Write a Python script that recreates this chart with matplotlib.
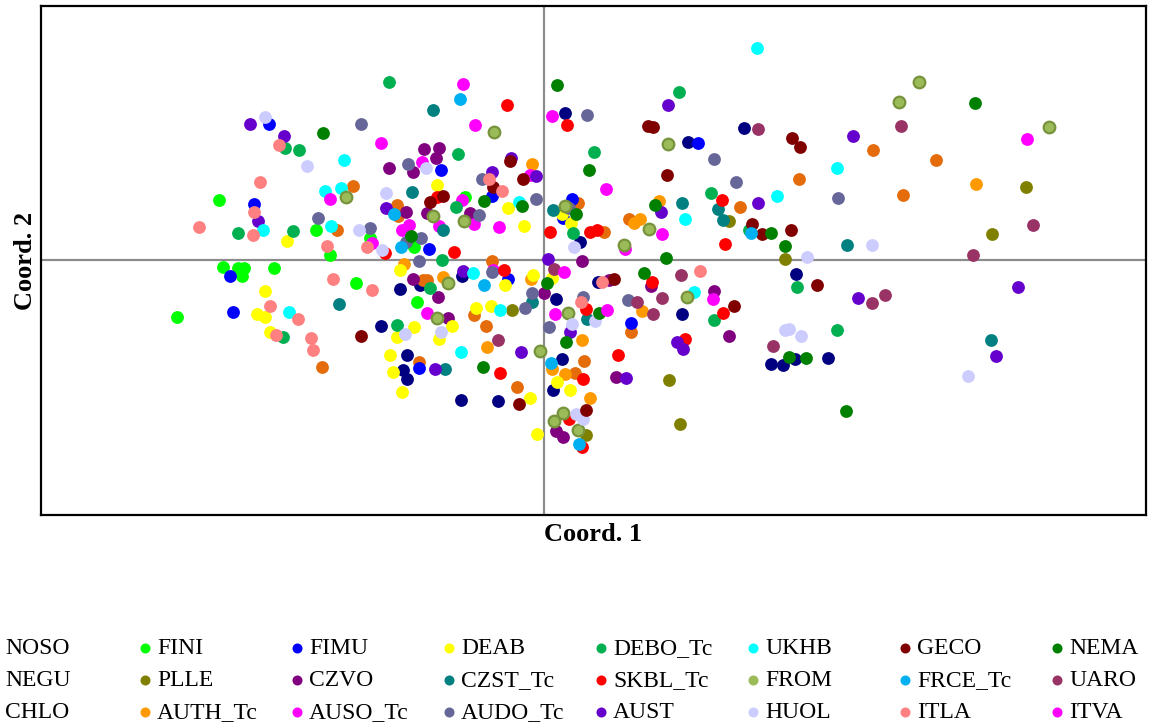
import numpy as np
import matplotlib
matplotlib.use("Agg")
import matplotlib.pyplot as plt

# PCoA scores (Coord. 1, Coord. 2) per population
NOSO = [(0.21, 1.47), (1.44, 1.18), (2.00, 1.32), (0.36, 0.18), (-1.44, -0.29), (-1.24, -0.25),
        (-0.82, -0.16), (-1.63, -0.66), (-1.37, -0.95), (-1.41, -1.10), (-1.37, -1.19), (-0.83, -1.40),
        (-0.46, -1.41), (0.12, -0.39), (0.18, -0.99), (0.09, -1.30), (0.54, -0.22), (1.38, -0.54),
        (2.52, -0.14), (2.27, -1.04), (2.39, -1.05), (2.51, -0.99), (2.84, -0.98)]
NEGU = [(-1.91, 0.74), (-2.07, 0.30), (-1.47, 0.55), (-1.46, 0.44), (-2.22, -1.07), (-1.21, -0.20),
        (-1.17, -0.20), (-1.25, -1.02), (-0.70, -0.55), (-0.58, -0.66), (-0.27, -1.27), (-0.52, -0.01),
        (0.34, 0.57), (0.60, 0.28), (0.85, 0.41), (1.96, 0.53), (2.55, 0.81), (3.29, 1.10),
        (3.92, 1.00), (3.59, 0.65), (0.40, -1.01), (0.31, -1.13), (0.87, -0.72)]
CHLO = []
FINI = [(-3.25, 0.60), (-3.21, -0.07), (-3.06, -0.08), (-3.00, -0.08), (-3.02, -0.16), (-2.70, -0.08),
        (-3.67, -0.57), (-2.28, 0.30), (-2.14, 0.05), (-1.88, -0.23), (-1.74, 0.22), (-1.30, 0.13),
        (-1.27, -0.42), (-0.79, 0.63)]
PLLE = [(-0.32, -0.50), (1.85, 0.39), (2.41, 0.01), (4.48, 0.26), (4.82, 0.73), (1.25, -1.20),
        (1.36, -1.64), (0.42, -1.75)]
AUTH_Tc = [(-0.12, 0.96), (-1.40, -0.04), (-1.01, -0.17), (-0.13, -0.19), (-0.57, -0.87), (1.15, 0.59),
           (0.90, 0.37), (0.96, 0.41), (4.32, 0.76), (0.98, -0.51), (0.38, -0.80), (0.08, -1.09),
           (0.21, -1.14), (0.46, -1.38)]
FIMU = [(-2.75, 1.36), (-2.90, 0.56), (-3.14, -0.16), (-3.11, -0.52), (-1.03, 0.90), (-0.52, 0.64),
        (-1.15, 0.11), (-1.25, -1.08), (-0.36, -0.19), (0.28, 0.61), (0.19, 0.42), (1.54, 1.17),
        (0.87, -0.63)]
CZVO = [(-1.20, 1.11), (-1.05, 1.12), (-1.08, 1.02), (-1.55, 0.92), (-1.31, 0.88), (-1.38, 0.48),
        (-1.17, 0.47), (-0.74, 0.47), (-1.31, -0.19), (-1.06, -0.37), (-0.96, -0.58), (0.00, -0.33),
        (0.38, -0.01), (0.65, -0.20), (1.07, -0.26), (1.70, -0.31), (1.85, -0.76), (0.72, -1.17),
        (0.12, -1.71), (0.19, -1.77)]
AUSO_Tc = [(-0.81, 1.76), (0.08, 1.44), (-1.22, 0.98), (-0.14, 0.85), (-1.42, 0.30), (-1.35, 0.35),
           (-1.05, 0.34), (-0.82, 0.60), (-0.70, 0.36), (-1.72, 0.17), (0.62, 0.71), (0.81, 0.11),
           (-1.17, -0.53), (0.11, -0.54), (-0.51, -0.10)]
DEAB = [(-2.57, 0.19), (-2.79, -0.31), (-2.87, -0.54), (-2.79, -0.57), (-2.74, -0.72), (-1.07, 0.75),
        (-0.36, 0.52), (-0.20, 0.34), (-1.44, -0.10), (-1.30, -0.67), (-1.47, -0.77), (-0.92, -0.66),
        (-1.05, -0.79), (-1.54, -0.95), (-1.51, -1.12), (-1.42, -1.32), (-0.68, -0.48), (-0.53, -0.46),
        (-0.39, -0.25), (-0.11, -0.15), (-0.14, -1.38), (-0.07, -1.74), (0.18, 0.46), (0.27, 0.37),
        (0.08, -0.18), (0.13, -1.22), (0.26, -1.30)]
CZST_Tc = [(-1.11, 1.50), (-1.32, 0.68), (0.09, 0.50), (-1.01, 0.30), (-2.05, -0.44), (-0.99, -1.09),
           (-0.12, -0.42), (0.43, -0.59), (1.38, 0.57), (1.74, 0.51), (1.79, 0.40), (3.03, 0.15),
           (4.47, -0.80)]
AUDO_Tc = [(-1.83, 1.36), (-1.36, 0.96), (-0.62, 0.81), (-0.08, 0.61), (0.43, 1.45), (1.70, 1.01),
           (1.92, 0.78), (2.94, 0.62), (-2.26, 0.42), (-1.74, 0.32), (-0.65, 0.45), (-1.23, 0.22),
           (-1.38, 0.18), (-1.25, -0.01), (-0.52, -0.12), (-0.19, -0.48), (-0.12, -0.33), (0.25, 0.52),
           (0.05, -0.67), (0.39, -0.37), (0.84, -0.40)]
DEBO_Tc = [(-1.55, 1.78), (-2.59, 1.12), (-2.45, 1.10), (-3.06, 0.27), (-2.51, 0.29), (-2.61, -0.77),
           (-0.86, 1.06), (-0.88, 0.53), (-1.02, 0.00), (-1.47, -0.65), (-1.14, -0.28), (0.50, 1.08),
           (1.35, 1.68), (1.67, 0.67), (0.29, 0.27), (1.70, -0.60), (2.53, -0.27), (2.93, -0.70),
           (2.05, 0.30)]
SKBL_Tc = [(-0.37, 1.55), (0.23, 1.35), (-1.07, 0.63), (-1.59, 0.07), (-0.90, 0.08), (0.06, 0.28),
           (0.46, 0.28), (0.53, 0.30), (1.78, 0.60), (1.81, 0.16), (-0.40, -0.10), (-0.44, -1.13),
           (1.08, -0.22), (0.42, -0.49), (0.39, -1.19), (0.25, -1.59), (0.38, -1.87), (1.41, -0.79),
           (0.74, -0.95), (1.79, -0.53)]
AUST = [(-2.94, 1.36), (-2.60, 1.24), (-2.86, 0.39), (1.24, 1.55), (3.09, 1.24), (-0.33, 1.02),
        (-0.08, 0.84), (-0.52, 0.88), (-1.58, 0.52), (1.17, 0.48), (2.14, 0.57), (-0.81, -0.11),
        (-1.09, -1.09), (-0.23, -0.92), (0.04, 0.01), (0.26, -0.72), (1.33, -0.82), (1.39, -0.89),
        (0.82, -1.18), (3.14, -0.38), (4.74, -0.27), (4.52, -0.96)]
UKHB = [(2.13, 2.12), (-2.00, 1.00), (-2.19, 0.69), (-2.03, 0.72), (-2.13, 0.34), (-2.81, 0.30),
        (-2.55, -0.52), (-0.83, -0.92), (-0.71, -0.13), (-0.44, -0.50), (-0.25, 0.58), (1.41, 0.41),
        (1.50, -0.32), (2.33, 0.64), (2.93, 0.92)]
FROM = [(3.75, 1.78), (3.55, 1.58), (5.05, 1.33), (-0.50, 1.28), (1.24, 1.16), (-1.98, 0.63),
        (-1.11, 0.44), (-0.80, 0.39), (-0.96, -0.23), (-1.07, -0.58), (0.21, 0.54), (1.05, 0.31),
        (0.80, 0.15), (-0.04, -0.91), (0.24, -0.53), (1.43, -0.37), (0.19, -1.53), (0.10, -1.61),
        (0.34, -1.70)]
HUOL = [(-2.79, 1.43), (-2.37, 0.94), (-1.58, 0.67), (-1.18, 0.92), (-1.85, 0.30), (-1.62, 0.10),
        (-1.39, -0.74), (-1.03, -0.72), (0.30, 0.13), (0.28, -0.64), (0.51, -0.61), (0.32, -1.54),
        (0.39, -1.59), (2.41, -0.70), (2.45, -0.69), (2.57, -0.76), (2.63, 0.03), (3.28, 0.15),
        (4.24, -1.16)]
GECO = [(-0.34, 0.99), (-0.21, 0.81), (-0.51, 0.73), (-1.01, 0.64), (-1.14, 0.58), (-1.83, -0.76),
        (-0.25, -1.44), (1.04, 1.34), (1.09, 1.33), (1.23, 0.85), (2.08, 0.36), (2.18, 0.26),
        (2.47, 0.30), (2.48, 1.22), (2.56, 1.13), (1.90, -0.46), (0.70, -0.19), (0.42, -1.50),
        (2.73, -0.25)]
FRCE_Tc = [(-0.84, 1.61), (-1.43, 0.13), (-0.60, -0.25), (2.07, 0.27), (0.07, -1.03), (0.35, -1.84),
           (-1.50, 0.46)]
ITLA = [(-2.65, 1.15), (-2.84, 0.78), (-2.90, 0.48), (-2.91, 0.25), (-3.45, 0.33), (-2.17, 0.14),
        (-2.11, -0.19), (-1.72, -0.30), (-2.74, -0.46), (-2.46, -0.59), (-2.68, -0.75), (-2.33, -0.78),
        (-2.31, -0.90), (-1.77, 0.13), (-0.55, 0.81), (-0.42, 0.69), (0.37, -0.42), (0.58, -0.22),
        (1.56, -0.11)]
NEMA = [(0.13, 1.75), (-2.21, 1.27), (-0.60, 0.59), (-0.22, 0.54), (-1.33, 0.24), (-0.61, -1.07),
        (0.45, 0.90), (1.11, 0.55), (0.32, 0.46), (1.22, 0.02), (0.03, -0.23), (0.22, -0.82),
        (0.55, -0.53), (1.00, -0.13), (2.27, 0.27), (2.41, 0.14), (2.45, -0.97), (2.62, -0.98),
        (3.02, -1.51), (4.31, 1.57)]
UARO = [(2.14, 1.31), (3.57, 1.34), (4.89, 0.35), (4.29, 0.05), (0.10, -0.09), (1.37, -0.15),
        (0.93, -0.42), (1.09, -0.54), (1.18, -0.38), (-0.46, -0.80), (2.29, -0.86), (3.28, -0.43),
        (3.41, -0.35)]
ITVA = [(4.83, 1.21), (1.18, 0.26), (1.69, -0.39), (0.63, -0.50), (-0.69, 1.35), (-1.63, 1.17),
        (-2.14, 0.61), (-0.45, 0.33), (0.20, -0.12)]

# legend order: column by column (3 rows x 8 columns)
names = ["NOSO", "NEGU", "CHLO", "FINI", "PLLE", "AUTH_Tc", "FIMU", "CZVO", "AUSO_Tc",
         "DEAB", "CZST_Tc", "AUDO_Tc", "DEBO_Tc", "SKBL_Tc", "AUST", "UKHB", "FROM", "HUOL",
         "GECO", "FRCE_Tc", "ITLA", "NEMA", "UARO", "ITVA"]
scores = [NOSO, NEGU, CHLO, FINI, PLLE, AUTH_Tc, FIMU, CZVO, AUSO_Tc,
          DEAB, CZST_Tc, AUDO_Tc, DEBO_Tc, SKBL_Tc, AUST, UKHB, FROM, HUOL,
          GECO, FRCE_Tc, ITLA, NEMA, UARO, ITVA]
colors = ["#000080", "#E46C0A", "#FFC000", "#00FF00", "#808000", "#FF9900", "#0000FF", "#800080",
          "#FF00FF", "#FFFF00", "#008080", "#666699", "#00B050", "#FF0000", "#6600CC", "#00FFFF",
          "#9BBB59", "#CCCCFF", "#800000", "#00B0F0", "#FF8080", "#008000", "#993366", "#FF00FF"]

W, H = 1157, 728
fig = plt.figure(figsize=(W / 100, H / 100), dpi=100)
serif = "Liberation Serif"

ax = fig.add_axes([41 / W, 1 - 515 / H, (1146 - 41) / W, (515 - 6) / H])
ax.set_xlim(-5.03, 6.02)
ax.set_ylim(-2.55, 2.54)
ax.axhline(0, color="#8c8c8c", lw=1.6, zorder=1)
ax.axvline(0, color="#8c8c8c", lw=1.6, zorder=1)

for name, pts, col in zip(names, scores, colors):
    if not pts:
        continue
    arr = np.array(pts)
    if name == "FROM":
        ax.scatter(arr[:, 0], arr[:, 1], s=70, c=col, edgecolors="#77933C", linewidths=1.6, zorder=3)
    else:
        ax.scatter(arr[:, 0], arr[:, 1], s=85, c=col, linewidths=0, zorder=3)

ax.set_xticks([])
ax.set_yticks([])
for sp in ax.spines.values():
    sp.set_linewidth(1.6)
    sp.set_color("black")
ax.set_xlabel("Coord. 1", fontsize=19, fontweight="bold", family=serif, labelpad=6)
ax.set_ylabel("Coord. 2", fontsize=19, fontweight="bold", family=serif, labelpad=3)

# legend laid out on a regular grid like the original
lax = fig.add_axes([0, 0, 1, 1], facecolor="none")
lax.set_xlim(0, W)
lax.set_ylim(H, 0)
lax.axis("off")
for i, (name, col) in enumerate(zip(names, colors)):
    c, r = divmod(i, 3)
    tx = 5 + 152 * c
    ty = 649 + 32 * r
    lax.scatter([tx - 12], [ty - 1], s=52, c=col, linewidths=0, clip_on=True)
    lax.text(tx, ty, name, fontsize=17, family=serif, va="center", ha="left")

fig.savefig("out.png", dpi=100)
